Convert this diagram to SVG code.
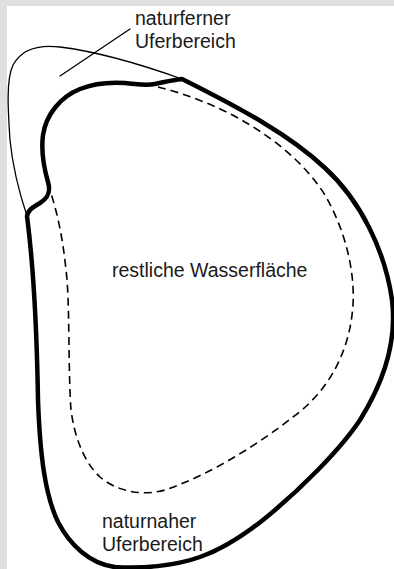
<svg xmlns="http://www.w3.org/2000/svg" width="394" height="569" viewBox="0 0 394 569">
  <style>
    .lbl { font-family: "Liberation Sans", Arial, Helvetica, sans-serif; font-size: 19.5px; fill: #1a1a1a; }
    .thick { fill: none; stroke: #000; stroke-width: 4.5; stroke-linejoin: round; stroke-linecap: round; }
    .thin { fill: none; stroke: #000; stroke-width: 1.3; stroke-linecap: round; }
    .dash { fill: none; stroke: #000; stroke-width: 1.6; stroke-dasharray: 8 5; }
  </style>
  <rect x="0" y="0" width="394" height="569" fill="#e0e0e0"/>
  <rect x="7" y="6" width="387" height="563" fill="#ffffff"/>

  <g id="naturfern-zone">
    <path class="thin" d="M 182,79 C 140,64 100,52 60,47 C 35,44 20,52 13,65 C 6,80 8,110 10,140 C 13,170 20,195 27,216"/>
  </g>

  <g id="shoreline">
    <path class="thick" d="M 27,216 C 28,210 33,207 40,203 C 48,198 51,192 48,182 C 44,168 41,150 43,135 C 46,115 60,97 80,89 C 95,83 110,82 125,83 C 138,84 145,86 155,84 C 165,82 172,80 182,79 C 240,108 290,135 325,168 C 360,200 385,250 392,300 C 397,340 385,380 360,420 C 340,450 300,490 263,520 C 240,538 220,550 200,557 C 175,566 140,569 115,567 C 90,564 70,545 58,522 C 45,495 40,455 38,400 C 37,340 34,270 27,216 Z"/>
  </g>

  <g id="water-boundary">
    <path class="dash" d="M 158,87 C 220,102 290,140 325,195 C 345,230 355,270 353,305 C 350,350 330,390 293,417 C 260,443 210,475 165,490 C 140,497 115,490 100,477 C 85,463 75,440 71,410 C 68,370 70,300 66,270 C 63,240 58,215 50,190"/>
  </g>

  <g id="connectors">
    <line class="thin" x1="60" y1="76" x2="130" y2="29"/>
  </g>

  <g id="label-naturfern">
    <text class="lbl" x="135" y="25">naturferner</text>
    <text class="lbl" x="135" y="48">Uferbereich</text>
  </g>
  <g id="label-water">
    <text class="lbl" x="112" y="277">restliche Wasserfläche</text>
  </g>
  <g id="label-naturnah">
    <text class="lbl" x="102" y="528">naturnaher</text>
    <text class="lbl" x="102" y="551">Uferbereich</text>
  </g>
</svg>
